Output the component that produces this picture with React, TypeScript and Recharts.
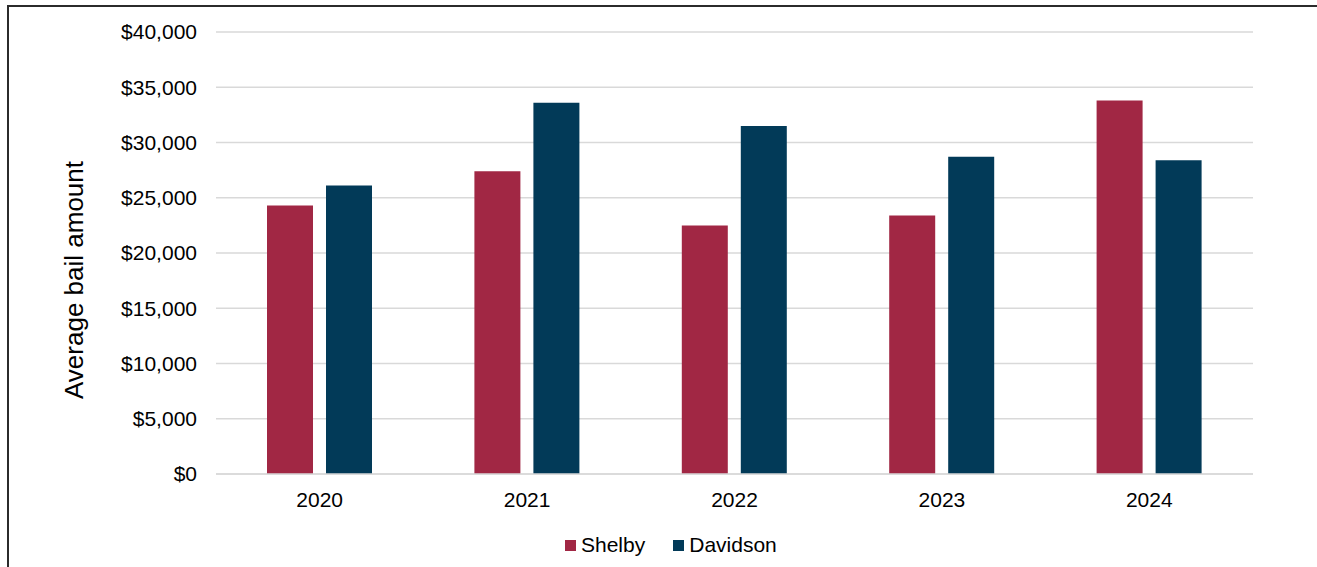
import { BarChart, Bar, XAxis, YAxis, CartesianGrid, Legend } from "recharts"

const years = ["2020", "2021", "2022", "2023", "2024"]
const shelby = [24300, 27400, 22500, 23400, 33800]
const davidson = [26100, 33600, 31500, 28700, 28400]
const yTicks = [0, 5000, 10000, 15000, 20000, 25000, 30000, 35000, 40000]

const SHELBY = "#A12744"
const DAVIDSON = "#023A58"
const FONT = "'Liberation Sans', Arial, sans-serif"

const series = [
  { key: "Shelby", color: SHELBY },
  { key: "Davidson", color: DAVIDSON },
]

const data = years.map((year, i) => ({ year, Shelby: shelby[i], Davidson: davidson[i] }))

const money = (v: number) => "$" + String(v).replace(/\B(?=(\d{3})+(?!\d))/g, ",")

function LegendContent() {
  return (
    <div style={{ display: "flex", alignItems: "center", fontFamily: FONT, fontSize: 21, color: "#000", lineHeight: "24px" }}>
      {series.map((s, i) => (
        <div key={s.key} style={{ display: "flex", alignItems: "center", marginLeft: i ? 28 : 0 }}>
          <span style={{ width: 11, height: 11, background: s.color, marginRight: 5, display: "inline-block" }} />
          <span>{s.key}</span>
        </div>
      ))}
    </div>
  )
}

export default function App() {
  return (
    <div style={{ position: "absolute", left: 0, top: 0, width: 1317, height: 567, background: "#fff", overflow: "hidden" }}>
      <div style={{ position: "absolute", left: 7, top: 5, right: -10, bottom: -10, borderLeft: "2px solid #2b2b2b", borderTop: "2px solid #2b2b2b" }} />
      <BarChart
        width={1317}
        height={567}
        data={data}
        margin={{ top: 32, right: 64, left: 73, bottom: 33 }}
        barCategoryGap={51}
        barGap={13}
      >
        <CartesianGrid vertical={false} stroke="#d9d9d9" strokeWidth={1.5} />
        <XAxis
          dataKey="year"
          height={36}
          axisLine={{ stroke: "#d9d9d9", strokeWidth: 1.5 }}
          tickLine={false}
          tickMargin={12}
          tick={{ fill: "#000", fontSize: 21, fontFamily: FONT }}
        />
        <YAxis
          width={143}
          domain={[0, 40000]}
          ticks={yTicks}
          interval={0}
          tickFormatter={money}
          axisLine={false}
          tickLine={false}
          tickMargin={13}
          tick={{ fill: "#000", fontSize: 21, fontFamily: FONT }}
          label={{
            content: () => (
              <text
                x={74}
                y={280}
                transform="rotate(-90 74 280)"
                textAnchor="middle"
                dominantBaseline="central"
                fontSize={26}
                fontFamily={FONT}
                fill="#000"
              >
                Average bail amount
              </text>
            ),
          }}
        />
        <Legend
          verticalAlign="bottom"
          content={<LegendContent />}
          wrapperStyle={{ left: 565, top: 533, width: "auto", height: 24 }}
        />
        {series.map((s) => (
          <Bar key={s.key} dataKey={s.key} fill={s.color} isAnimationActive={false} />
        ))}
      </BarChart>
    </div>
  )
}
